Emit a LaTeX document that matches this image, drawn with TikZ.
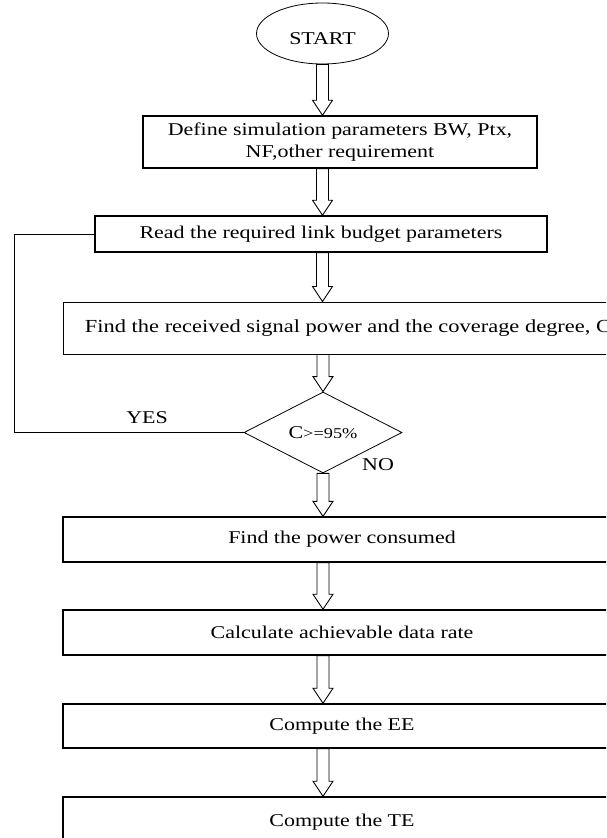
\documentclass[tikz,border=0pt]{standalone}
\usepackage{fontspec}
\setmainfont{Liberation Serif}[FakeStretch=1.22]
\usetikzlibrary{calc,shapes.geometric}
\begin{document}
\begin{tikzpicture}[x=1pt,y=-1pt,
  txt/.style={font=\fontsize{18}{22}\selectfont},
  box/.style={draw, line width=1.5pt, rectangle, inner sep=0pt, txt},
  thinbox/.style={box, line width=1pt},
  lbl/.style={inner sep=0pt, txt},
  blockarrow/.style={line width=0.9pt, to path={let \p1=(\tikztostart), \p2=(\tikztotarget) in
    ({\x1-6pt},{\y1}) -- ({\x1-6pt},{\y2+15pt}) -- ({\x1-10pt},{\y2+15pt}) -- (\x1,\y2)
    -- ({\x1+10pt},{\y2+15pt}) -- ({\x1+6pt},{\y2+15pt}) -- ({\x1+6pt},{\y1}) -- cycle}},
  link/.style={line width=0.8pt}]
\clip (0,0) rectangle (606,838);
\fill[white] (0,0) rectangle (606,838);

\node[draw, ellipse, line width=0.8pt, minimum width=132pt, minimum height=61pt, inner sep=0pt, txt] (start) at (322.5,33.5) {\raisebox{-5pt}[\height][0pt]{START}};
\node[box, minimum width=394pt, minimum height=52pt, align=center] (def) at (340,142) {Define simulation parameters BW, Ptx,\\NF,other requirement};
\node[box, minimum width=452pt, minimum height=36pt] (read) at (321,234) {Read the required link budget parameters};
\node[thinbox, minimum width=570pt, minimum height=52pt, font=\fontsize{18.4}{22}\selectfont] (recv) at (348,328) {Find the received signal power and the coverage degree, C};
\node[draw, diamond, line width=0.8pt, minimum width=158pt, minimum height=73pt, inner sep=0pt, txt] (dec) at (323,432.5) {C{\fontsize{15}{18}\selectfont>=95\%}};
\node[box, line width=1.2pt, minimum width=558pt, minimum height=45pt] (pow) at (342,539.5) {Find the power consumed};
\node[box, minimum width=558pt, minimum height=45pt] (calc) at (342,632.5) {Calculate achievable data rate};
\node[box, minimum width=558pt, minimum height=44pt] (ee) at (342,726) {Compute the EE};
\node[box, minimum width=558pt, minimum height=50pt] (te) at (342,822) {Compute the TE};

\coordinate (loopx) at (14,0);
\draw[link] (dec.west) -- (dec.west -| loopx) |- (read.west);
\node[lbl] (yes) at (147,418) {YES};
\node[lbl] (no) at (378,465) {NO};

\draw[blockarrow] (start.south) to (start.south |- def.north);
\draw[blockarrow] (def.south -| start.south) to (start.south |- read.north);
\draw[blockarrow] (read.south -| start.south) to (start.south |- recv.north);
\draw[blockarrow] (recv.south -| dec.north) to (dec.north);
\draw[blockarrow] (dec.south) to (dec.south |- pow.north);
\draw[blockarrow] (pow.south -| dec.south) to (dec.south |- calc.north);
\draw[blockarrow] (calc.south -| dec.south) to (dec.south |- ee.north);
\draw[blockarrow] (ee.south -| dec.south) to (dec.south |- te.north);
\end{tikzpicture}
\end{document}
